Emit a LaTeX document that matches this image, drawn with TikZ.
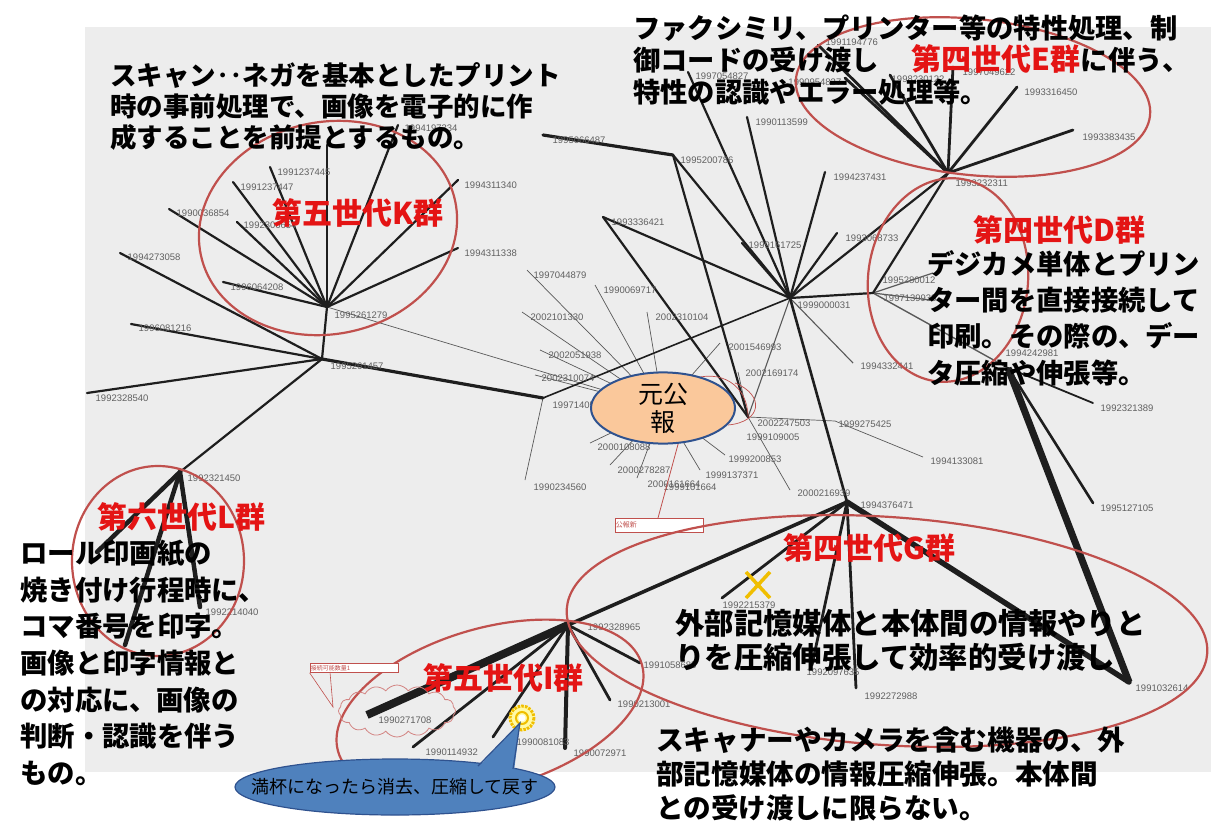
\documentclass[tikz,border=0pt]{standalone}
\usepackage{fontspec}
\newfontfamily\jp{Noto Sans CJK JP}
\newfontfamily\lbf{Liberation Sans}
\usetikzlibrary{shapes.geometric,shapes.symbols}
\definecolor{grp}{RGB}{192,80,77}
\definecolor{rtx}{RGB}{228,20,20}
\definecolor{bgc}{RGB}{237,237,237}
\definecolor{ln}{RGB}{30,30,30}
\definecolor{peach}{RGB}{250,200,155}
\definecolor{bord}{RGB}{47,82,143}
\definecolor{callb}{RGB}{79,129,189}
\definecolor{gold}{RGB}{240,190,0}
\tikzset{
 thn/.style={line width=0.7pt, draw=gray!70!black},
 md/.style={line width=2.2pt, draw=ln, line cap=round},
 tk/.style={line width=3.2pt, draw=ln, line cap=round},
 vt/.style={line width=5pt, draw=ln, line cap=round},
 xt/.style={line width=7.5pt, draw=ln},
 grpell/.style={draw=grp, line width=2.2pt},
 lbl/.style={font=\lbf\fontsize{9.5}{10}\selectfont, text=gray!75!black, anchor=west, inner sep=0.5pt},
 blk/.style={anchor=west, align=left, inner sep=0, text=black},
 rlab/.style={font=\jp\bfseries\fontsize{30}{32}\selectfont, text=rtx, anchor=west, inner sep=0},
}
\begin{document}
\begin{tikzpicture}[x=1pt,y=-1pt]
\useasboundingbox (0,0) rectangle (1211,820);
\fill[bgc] (85,27) rectangle (1211,772);

% ---------- coordinates ----------
\coordinate (K) at (327,307);
\coordinate (H1) at (322,359);
\coordinate (L) at (180,472);
\coordinate (M) at (543,398);
\coordinate (P) at (748,417);
\coordinate (X) at (790,298);
\coordinate (E) at (948,173);
\coordinate (D) at (873,293);
\coordinate (Q) at (1008,368);
\coordinate (G) at (847,502);
\coordinate (I) at (568,625);
\coordinate (N1) at (673,155);
\coordinate (N2) at (603,217);
\coordinate (N3) at (543,135);
\coordinate (C) at (663,408);
% K leaves
\coordinate (k1) at (270,167);
\coordinate (k2) at (233,182);
\coordinate (k3) at (169,209);
\coordinate (k4) at (237,222);
\coordinate (k5) at (223,282);
\coordinate (k6) at (327,145);
\coordinate (k7) at (398,125);
\coordinate (k8) at (458,180);
\coordinate (k9) at (458,248);
% H1 leaves
\coordinate (h1) at (120,253);
\coordinate (h2) at (131,324);
\coordinate (h3) at (87,393);
% L leaves
\coordinate (l1) at (97,552);
\coordinate (l2) at (125,645);
\coordinate (l3) at (200,607);
% M leaf
\coordinate (m1) at (525,480);
% X leaves
\coordinate (x1) at (688,72);
\coordinate (x2) at (747,117);
\coordinate (x3) at (825,172);
\coordinate (x4) at (837,233);
\coordinate (x5) at (853,363);
\coordinate (x6) at (742,243);
% E leaves
\coordinate (e1) at (818,45);
\coordinate (e2) at (845,78);
\coordinate (e3) at (890,75);
\coordinate (e4) at (953,67);
\coordinate (e5) at (1017,87);
\coordinate (e6) at (1073,130);
% D leaves
\coordinate (d1) at (933,273);
\coordinate (d2) at (930,300);
% Q leaves
\coordinate (q1) at (1093,403);
\coordinate (q2) at (1093,503);
\coordinate (q3) at (1129,682);
% G leaves
\coordinate (g1) at (722,598);
\coordinate (g2) at (812,665);
\coordinate (g3) at (856,688);
% I leaves
\coordinate (i1) at (367,715);
\coordinate (i2) at (413,747);
\coordinate (i3) at (493,737);
\coordinate (i4) at (565,748);
\coordinate (i5) at (610,700);
\coordinate (i6) at (640,663);
% P leaves
\coordinate (p1) at (790,490);
\coordinate (p2) at (738,372);
\coordinate (p3) at (835,421);
\coordinate (p4) at (923,457);
% centre leaves
\coordinate (c1) at (527,270);
\coordinate (c2) at (595,285);
\coordinate (c3) at (522,312);
\coordinate (c4) at (647,312);
\coordinate (c5) at (540,350);
\coordinate (c6) at (535,375);
\coordinate (c7) at (720,343);
\coordinate (c8) at (590,443);
\coordinate (c9) at (610,465);
\coordinate (c10) at (637,478);
\coordinate (c11) at (700,470);
\coordinate (c12) at (725,455);

% ---------- thin lines ----------
\foreach \t in {c1,c2,c3,c4,c5,c6,c7,c8,c9,c10,c11,c12} \draw[thn] (\t) -- (C);
\draw[thn] (K) -- (C);
\draw[thn] (M) -- (m1);
\draw[thn, line width=1.1pt] (X) -- (P);
\draw[thn, line width=1.1pt] (X) -- (x5);
\draw[thn] (P) -- (p1);
\draw[thn] (P) -- (p2);
\draw[thn] (P) -- (p3) -- (p4);
\draw[thn, line width=1.2pt] (D) -- (d1);
\draw[thn, line width=1.2pt] (D) -- (d2);
\draw[thn, line width=1.4pt] (D) -- (Q);

% ---------- heavier lines ----------
\foreach \t in {k1,k2,k3,k4,k5,k6,k7,k8,k9} \draw[md] (K) -- (\t);
\draw[md] (K) -- (H1);
\foreach \t in {h1,h2,h3} \draw[md] (H1) -- (\t);
\draw[md] (H1) -- (L);
\draw[tk] (H1) -- (M);
\foreach \t in {l1,l2,l3} \draw[vt, line width=4.5pt] (L) -- (\t);
\draw[md, line width=1.6pt] (M) -- (X);
\draw[tk] (N3) -- (N1);
\draw[md] (N1) -- (X);
\draw[md] (N1) -- (P);
\draw[md] (N2) -- (X);
\draw[md] (N2) -- (P);
\foreach \t in {x1,x2,x3,x4,x6} \draw[md] (X) -- (\t);
\draw[md] (X) -- (D);
\draw[md] (X) -- (E);
\draw[md] (D) -- (E);
\draw[md, line width=2.6pt] (X) -- (G);
\foreach \t in {e1,e2,e3,e4,e5,e6} \draw[md, line width=2.8pt] (E) -- (\t);
\draw[md, line width=1.8pt] (Q) -- (q1);
\draw[md, line width=2.6pt] (Q) -- (q2);
\draw[xt, line width=7pt] (Q) -- (q3);
\draw[tk, line width=3.6pt] (G) -- (I);
\foreach \t in {g1,g2,g3} \draw[md, line width=2.8pt] (G) -- (\t);
\draw[vt, line width=5.5pt] (G) -- (q3);
\draw[xt, line width=8pt] (I) -- (i1);
\foreach \t in {i2,i3,i5,i6} \draw[md, line width=2.8pt] (I) -- (\t);
\draw[vt, line width=4pt] (I) -- (i4);

% ---------- number labels ----------
\node[lbl] (lk1) at (277,172) {1991237445};
\node[lbl] (lk2) at (240,187) {1991237447};
\node[lbl] (lk3) at (176,213) {1990036854};
\node[lbl] (lk4) at (243,225) {1992306654};
\node[lbl] (lk5) at (230,287) {1996064208};
\node[lbl] (lk7) at (404,128) {1994197334};
\node[lbl] (lk8) at (464,185) {1994311340};
\node[lbl] (lk9) at (464,253) {1994311338};
\node[lbl] (lK) at (334,315) {1995261279};
\node[lbl] (lH1) at (330,366) {1995261457};
\node[lbl] (lh1) at (127,257) {1994273058};
\node[lbl] (lh2) at (138,328) {1996081216};
\node[lbl] (lh3) at (95,398) {1992328540};
\node[lbl] (lL) at (187,478) {1992321450};
\node[lbl] (ll3) at (205,612) {1992214040};
\node[lbl] (lM) at (552,405) {1997140512};
\node[lbl] (lm1) at (533,487) {1990234560};
\node[lbl] (lN3) at (552,140) {1995066487};
\node[lbl] (lN1) at (680,160) {1995200786};
\node[lbl] (lN2) at (611,222) {1993336421};
\node[lbl] (lX) at (797,305) {1999000031};
\node[lbl] (lx1) at (695,76) {1997054827};
\node[lbl] (lx2) at (755,122) {1990113599};
\node[lbl] (lx3) at (833,177) {1994237431};
\node[lbl] (lx4) at (845,238) {1993068733};
\node[lbl] (lx6) at (748,245) {1999161725};
\node[lbl] (lx5) at (860,366) {1994332441};
\node[lbl] (le1) at (825,42) {1991194776};
\node[lbl, anchor=east] (le2) at (842,82) {1990954837};
\node[lbl] (le3) at (891,79) {1998230122};
\node[lbl] (le4) at (962,72) {1997049622};
\node[lbl] (le5) at (1024,92) {1993316450};
\node[lbl] (le6) at (1082,137) {1993383435};
\node[lbl] (lE) at (955,183) {1993232311};
\node[lbl] (ld1) at (882,280) {1995280012};
\node[lbl] (lD) at (883,298) {1997139933};
\node[lbl] (lQ) at (1005,353) {1994242981};
\node[lbl] (lq1) at (1100,408) {1992321389};
\node[lbl] (lq2) at (1100,508) {1995127105};
\node[lbl] (lq3) at (1135,688) {1991032614};
\node[lbl] (lp1) at (797,493) {2000216939};
\node[lbl] (lG) at (860,505) {1994376471};
\node[lbl] (lg1) at (722,605) {1992215379};
\node[lbl] (lg2) at (806,672) {1992097635};
\node[lbl] (lg3) at (864,696) {1992272988};
\node[lbl] (lI) at (587,627) {1992328965};
\node[lbl] (li1) at (378,720) {1990271708};
\node[lbl] (li2) at (425,752) {1990114932};
\node[lbl] (li3) at (516,742) {1990081083};
\node[lbl] (li4) at (573,753) {1990072971};
\node[lbl] (li5) at (617,704) {1990213001};
\node[lbl] (li6) at (643,665) {1991058685};
\node[lbl] (lP) at (757,423) {2002247503};
\node[lbl] (lP2) at (746,437) {1999109005};
\node[lbl] (lp2) at (745,373) {2002169174};
\node[lbl] (lp3) at (838,424) {1999275425};
\node[lbl] (lp4) at (930,461) {1994133081};
\node[lbl] (lc1) at (533,275) {1997044879};
\node[lbl] (lc2) at (603,290) {1990069717};
\node[lbl] (lc3) at (530,317) {2002101330};
\node[lbl] (lc4) at (655,317) {2002310104};
\node[lbl] (lc5) at (548,355) {2002051938};
\node[lbl] (lc6) at (541,378) {2002310074};
\node[lbl] (lc7) at (728,347) {2001546993};
\node[lbl] (lc8) at (597,447) {2000108088};
\node[lbl] (lc9) at (617,470) {2000278287};
\node[lbl] (lc10) at (647,484) {2000161664};
\node[lbl] (lc10b) at (663,487) {1999101664};
\node[lbl] (lc11) at (705,475) {1999137371};
\node[lbl] (lc12) at (728,459) {1999200853};

% ---------- red annotations near centre ----------
\draw[grp, line width=0.7pt] (690,380) .. controls (720,368) and (748,385) .. (748,417);
\draw[grp, line width=0.7pt] (735,383) .. controls (765,395) and (762,422) .. (728,425);
\draw[grp, line width=0.8pt] (658,518) -- (680,437);
\node[draw=grp, fill=white, line width=0.8pt, minimum width=88pt, minimum height=14pt, inner sep=0] (rect1) at (659,525) {};
\node[font=\jp\fontsize{7}{8}\selectfont, text=grp, anchor=west, inner sep=1pt] (rect1t) at (rect1.west) {公報新};

% ---------- source ellipse ----------
\node[ellipse, draw=bord, fill=peach, line width=2pt, minimum width=144pt, minimum height=56pt, inner sep=0,
      font=\jp\fontsize{25}{28}\selectfont, align=center] (gen) at (C) {元公\\報};

% ---------- group ellipses ----------
\draw[grpell, rotate around={12:(328,228)}] (328,228) ellipse [x radius=130, y radius=106];
\draw[grpell, rotate around={-6:(973,97)}] (973,97) ellipse [x radius=178, y radius=78];
\draw[grpell, rotate around={-6:(948,280)}] (948,280) ellipse [x radius=80, y radius=102];
\draw[grpell] (158,561) ellipse [x radius=86, y radius=95];
\draw[grpell, rotate around={-4:(887,631)}] (887,631) ellipse [x radius=321, y radius=114];
\draw[grpell, rotate around={16:(490,708)}] (490,708) ellipse [x radius=158, y radius=80];

% ---------- left red callout + cloud ----------
\node[draw=grp, fill=white, line width=0.7pt, minimum width=88pt, minimum height=9pt, inner sep=0] (rect2) at (354,668) {};
\node[font=\jp\fontsize{6}{7}\selectfont, text=grp, anchor=west, inner sep=1pt] (rect2t) at (rect2.west) {接続可能数量1};
\coordinate (tip2) at (333,707);
\draw[grp, line width=0.6pt] (rect2.south west) -- (tip2) -- (330,672);
\node[cloud, draw=grp!70, line width=0.8pt, cloud puffs=16, cloud puff arc=110, aspect=2.3,
      minimum width=117pt, minimum height=52pt, inner sep=0] (cld) at (397,711) {};

% ---------- yellow marks ----------
\draw[gold, line width=3.5pt] (746,572) -- (770,598);
\draw[gold, line width=3.5pt] (770,572) -- (746,598);
\fill[yellow!35] (522,718) circle [radius=13];
\draw[gold, line width=3pt, dash pattern=on 2.5pt off 1.2pt] (522,718) circle [radius=12];
\draw[gold, line width=2pt] (522,718) circle [radius=6];
\fill[white] (522,718) circle [radius=3.5];

% ---------- blue speech bubble ----------
\node[ellipse, draw=bord, fill=callb, line width=1.2pt, minimum width=320pt, minimum height=56pt, inner sep=0] (bub) at (395,787) {};
\fill[callb] (478,767) -- (520,723) -- (514,771) -- cycle;
\draw[bord, line width=1.2pt] (478,766) -- (520,723) -- (513,769);
\node[font=\jp\fontsize{18}{20}\selectfont, text=black, inner sep=0] (bubt) at (395,787) {満杯になったら消去、圧縮して戻す};

% ---------- text blocks ----------
\node[blk, font={\jp\bfseries\fontsize{26.5}{31}\selectfont}] (t1) at (110,106)
 {スキャン‥ネガを基本としたプリント\\時の事前処理で、画像を電子的に作\\成することを前提とするもの。};
\node[blk, font={\jp\bfseries\fontsize{27.3}{32}\selectfont}] (t2) at (633,60)
 {ファクシミリ、プリンター等の特性処理、制\\御コードの受け渡し\hspace{33pt}{\color{rtx}\fontsize{30}{32}\selectfont 第四世代E群}に伴う、\\特性の認識やエラー処理等。};
\node[rlab] (rK) at (272,213) {第五世代K群};
\node[rlab] (rD) at (973,230) {第四世代D群};
\node[blk, font={\jp\bfseries\fontsize{27.3}{36.3}\selectfont}] (t3) at (927,318)
 {デジカメ単体とプリン\\ター間を直接接続して\\印刷。その際の、デー\\タ圧縮や伸張等。};
\node[rlab] (rL) at (97,517) {第六世代L群};
\node[blk, font={\jp\bfseries\fontsize{27.4}{36.7}\selectfont}] (t4) at (20,663)
 {ロール印画紙の\\焼き付け行程時に、\\コマ番号を印字。\\画像と印字情報と\\の対応に、画像の\\判断・認識を伴う\\もの。};
\node[rlab] (rG) at (783,548) {第四世代G群};
\node[blk, font={\jp\bfseries\fontsize{29.4}{34}\selectfont}] (t5) at (675,640)
 {外部記憶媒体と本体間の情報やりと\\りを圧縮伸張して効率的受け渡し};
\node[rlab] (rI) at (423,678) {第五世代I群};
\node[blk, font={\jp\bfseries\fontsize{27.6}{34}\selectfont}] (t6) at (656,774)
 {スキャナーやカメラを含む機器の、外\\部記憶媒体の情報圧縮伸張。本体間\\との受け渡しに限らない。};
\end{tikzpicture}
\end{document}
